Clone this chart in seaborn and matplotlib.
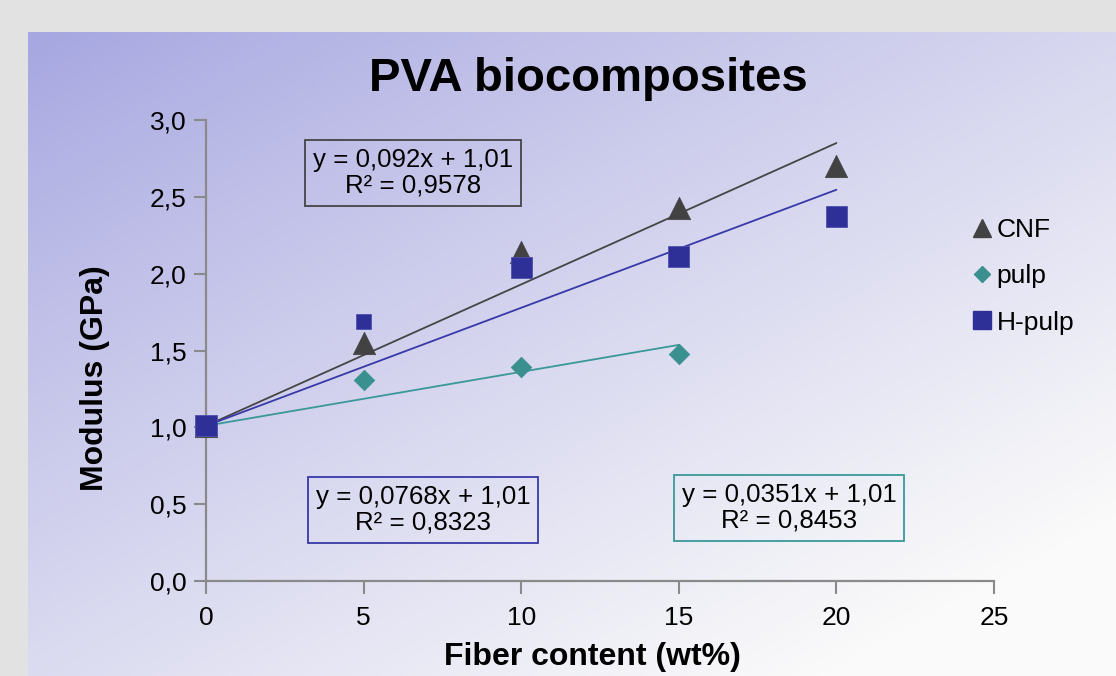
import numpy as np
import pandas as pd
import matplotlib
matplotlib.use("Agg")
import matplotlib.pyplot as plt
import seaborn as sns
from matplotlib.ticker import FuncFormatter
from matplotlib.lines import Line2D

sns.set_style("white")
plt.rcParams['font.family'] = ['Liberation Sans', 'DejaVu Sans']
plt.rcParams['text.color'] = 'black'
plt.rcParams['axes.labelcolor'] = 'black'

# data
fiber = [0, 5, 10, 15, 20]
cnf = [1.01, 1.55, 2.14, 2.43, 2.70]
pulp_x = [0, 5, 10, 15]
pulp = [1.01, 1.31, 1.39, 1.48]
hpulp = [1.01, 1.69, 2.04, 2.11, 2.37]
hpulp_size = [230, 120, 230, 230, 230]

# trend lines (intercept fixed at 1,01)
fits = {
    'CNF': (0.092, 1.01, 20, '#454545', 'y = 0,092x + 1,01\nR² = 0,9578'),
    'H-pulp': (0.0768, 1.01, 20, '#3838a8', 'y = 0,0768x + 1,01\nR² = 0,8323'),
    'pulp': (0.0351, 1.01, 15, '#3a9898', 'y = 0,0351x + 1,01\nR² = 0,8453'),
}

c_cnf = '#424242'
c_pulp = '#3a8f8f'
c_hpulp = '#2f2f98'

fig = plt.figure(figsize=(11.16, 6.76), dpi=100)
fig.patch.set_facecolor('#e2e2e2')

# gradient panel
bg = fig.add_axes([28 / 1116, 0, 1 - 28 / 1116, 1 - 32 / 676])
bg.set_axis_off()
u = np.linspace(0, 1, 300)
v = np.linspace(0, 1, 200)
U, V = np.meshgrid(u, v)
t = np.clip(0.55 * U + 0.6 * V, 0, 1) ** 0.9
c0 = np.array([166, 166, 225]) / 255
c1 = np.array([250, 250, 250]) / 255
img = c0[None, None, :] * (1 - t[..., None]) + c1[None, None, :] * t[..., None]
bg.imshow(img, aspect='auto', extent=[0, 1, 0, 1], origin='upper')
bg.set_xlim(0, 1)
bg.set_ylim(0, 1)

ax = fig.add_axes([206 / 1116, 95 / 676, (994 - 206) / 1116, (581 - 120) / 676])
ax.patch.set_alpha(0)

for name, (m, b, xmax, col, _) in fits.items():
    xs = np.array([0, xmax])
    sns.lineplot(x=xs, y=m * xs + b, ax=ax, color=col, linewidth=1.3, zorder=2)

df_cnf = pd.DataFrame({'x': fiber, 'y': cnf})
df_pulp = pd.DataFrame({'x': pulp_x, 'y': pulp})
df_h = pd.DataFrame({'x': fiber, 'y': hpulp})

sns.scatterplot(data=df_cnf, x='x', y='y', ax=ax, marker='^', s=260,
                color=c_cnf, edgecolor=c_cnf, linewidth=0.5, zorder=3, clip_on=False)
sns.scatterplot(data=df_pulp, x='x', y='y', ax=ax, marker='D', s=110,
                color=c_pulp, edgecolor=c_pulp, linewidth=0.5, zorder=3, clip_on=False)
sns.scatterplot(data=df_h, x='x', y='y', ax=ax, marker='s', s=hpulp_size,
                color=c_hpulp, edgecolor='#5050b0', linewidth=0.6, zorder=4, clip_on=False)

ax.set_xlim(0, 25)
ax.set_ylim(0, 3)
ax.set_xticks([0, 5, 10, 15, 20, 25])
ax.set_yticks(np.arange(0, 3.01, 0.5))
ax.yaxis.set_major_formatter(FuncFormatter(lambda val, pos: f'{val:.1f}'.replace('.', ',')))
ax.tick_params(axis='both', bottom=True, left=True, labelsize=19, colors='#8a8a8a',
               labelcolor='black', length=9, width=1.5, direction='out', pad=5)
ax.tick_params(axis='x', pad=9)
for s in ['top', 'right']:
    ax.spines[s].set_visible(False)
for s in ['left', 'bottom']:
    ax.spines[s].set_color('#8a8a8a')
    ax.spines[s].set_linewidth(1.6)

ax.set_xlabel('Fiber content (wt%)', fontsize=23, fontweight='bold')
ax.set_ylabel('Modulus (GPa)', fontsize=23, fontweight='bold')
# label positions in pixels -> axes coordinates
ax.xaxis.set_label_coords((592 - 206) / 788, (581 - 657) / 461)
ax.yaxis.set_label_coords((95 - 206) / 788, (581 - 378) / 461)
ax.xaxis.label.set_va('center')
ax.yaxis.label.set_va('center')

fig.text(588 / 1116, 1 - 79 / 676, 'PVA biocomposites', fontsize=34,
         fontweight='bold', ha='center', va='center')

# equation boxes
box_pos = {'CNF': (413, 173), 'H-pulp': (423, 510), 'pulp': (789, 508)}
for name, (m, b, xmax, col, label) in fits.items():
    bx, by = box_pos[name]
    fig.text(bx / 1116, 1 - by / 676, label, fontsize=18.6, ha='center', va='center',
             linespacing=1.08,
             bbox=dict(boxstyle='square,pad=0.3', facecolor='none',
                       edgecolor=col, linewidth=1.3))

handles = [
    Line2D([], [], marker='^', linestyle='none', color=c_cnf, markersize=12.5),
    Line2D([], [], marker='D', linestyle='none', color=c_pulp, markersize=8),
    Line2D([], [], marker='s', linestyle='none', color=c_hpulp, markersize=12.5),
]
fig.legend(handles, ['CNF', 'pulp', 'H-pulp'], loc='upper left',
           bbox_to_anchor=(940 / 1116, 1 - 194 / 676), frameon=False,
           fontsize=19, handletextpad=-0.15, labelspacing=0.85, handlelength=1.4)

fig.savefig('out.png', dpi=100)
